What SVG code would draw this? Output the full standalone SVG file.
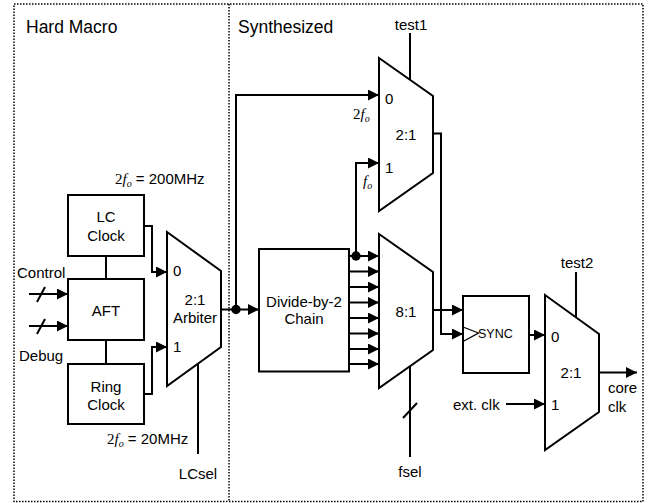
<svg xmlns="http://www.w3.org/2000/svg" width="648" height="503" viewBox="0 0 648 503">
<style>
.t{font-family:"Liberation Sans",Arial,sans-serif;font-size:15px;fill:#000}
.big{font-size:17.5px}
.m{text-anchor:middle}
.s{font-family:"Liberation Serif","Times New Roman",serif}
.box{fill:#fff;stroke:#000;stroke-width:2}
.w{fill:none;stroke:#000;stroke-width:2;stroke-linejoin:miter}
.a{marker-end:url(#ah)}
.dot{fill:#000}
.frame{fill:none;stroke:#000;stroke-width:1.5;stroke-dasharray:1.5 1.5}
</style>
<defs>
<marker id="ah" markerUnits="userSpaceOnUse" markerWidth="12" markerHeight="12" refX="11" refY="5.5" orient="auto">
<path d="M0,0 L11,5.5 L0,11 z" fill="#000"/>
</marker>
</defs>
<rect width="648" height="503" fill="#fff"/>
<g id="frame">
<rect class="frame" x="14" y="4" width="629" height="497.5"/>
<line class="frame" x1="229" y1="4" x2="229" y2="501.5"/>
<text class="t big" x="26" y="33">Hard Macro</text>
<text class="t big" x="238" y="33">Synthesized</text>
</g>
<g id="connectors">
<line class="w" x1="106" y1="256" x2="106" y2="279"/>
<line class="w" x1="106" y1="340" x2="106" y2="364"/>
<line class="w a" x1="29" y1="294" x2="68" y2="294"/>
<line class="w" x1="37" y1="302" x2="45" y2="287"/>
<line class="w a" x1="29" y1="326" x2="68" y2="326"/>
<line class="w" x1="37" y1="334" x2="45" y2="319"/>
<path class="w a" d="M144,226 H152 V272 H167"/>
<path class="w a" d="M144,394 H152 V347 H167"/>
<line class="w" x1="198" y1="364" x2="198" y2="454"/>
<line class="w" x1="221" y1="309.5" x2="236" y2="309.5"/>
<line class="w a" x1="236" y1="309.5" x2="259" y2="309.5"/>
<path class="w a" d="M236,309.5 V95 H379"/>
<circle class="dot" cx="236" cy="309.5" r="4.7"/>
<line class="w" x1="410" y1="33" x2="410" y2="80"/>
<path class="w a" d="M356,256 V163 H379"/>
<circle class="dot" cx="356" cy="256" r="4.7"/>
<line class="w a" x1="349" y1="256" x2="379" y2="256"/>
<line class="w a" x1="349" y1="271.5" x2="379" y2="271.5"/>
<line class="w a" x1="349" y1="287" x2="379" y2="287"/>
<line class="w a" x1="349" y1="302.5" x2="379" y2="302.5"/>
<line class="w a" x1="349" y1="318" x2="379" y2="318"/>
<line class="w a" x1="349" y1="333.5" x2="379" y2="333.5"/>
<line class="w a" x1="349" y1="349" x2="379" y2="349"/>
<line class="w a" x1="349" y1="364" x2="379" y2="364"/>
<line class="w" x1="410" y1="366" x2="410" y2="457"/>
<line class="w" x1="403" y1="418" x2="417" y2="403"/>
<path class="w a" d="M433,133.5 H441 V334 H463"/>
<line class="w a" x1="433" y1="310" x2="463" y2="310"/>
<line class="w a" x1="529" y1="335" x2="545" y2="335"/>
<line class="w" x1="576" y1="272" x2="576" y2="317"/>
<line class="w a" x1="506" y1="404" x2="545" y2="404"/>
<line class="w a" x1="599" y1="372.5" x2="637" y2="372.5"/>
</g>
<g id="lc_clock">
<rect class="box" x="68" y="195" width="76" height="61"/>
<text class="t m" x="106" y="222">LC</text>
<text class="t m" x="106" y="241">Clock</text>
<text class="t" x="115" y="184"><tspan class="s">2</tspan><tspan class="s" font-style="italic">f</tspan><tspan class="s" font-style="italic" font-size="10" dy="3">o</tspan><tspan dy="-3"> = 200MHz</tspan></text>
</g>
<g id="aft">
<rect class="box" x="68" y="279" width="76" height="61"/>
<text class="t m" x="106" y="316">AFT</text>
<text class="t" x="17" y="278">Control</text>
<text class="t" x="19" y="361">Debug</text>
</g>
<g id="ring_clock">
<rect class="box" x="68" y="364" width="76" height="60"/>
<text class="t m" x="106" y="392">Ring</text>
<text class="t m" x="106" y="410">Clock</text>
<text class="t" x="107" y="444"><tspan class="s">2</tspan><tspan class="s" font-style="italic">f</tspan><tspan class="s" font-style="italic" font-size="10" dy="3">o</tspan><tspan dy="-3"> = 20MHz</tspan></text>
</g>
<g id="arbiter">
<path class="box" d="M167,232 L221,271 L221,347 L167,386 Z"/>
<text class="t" x="173" y="276">0</text>
<text class="t" x="173" y="352">1</text>
<text class="t m" x="195" y="305">2:1</text>
<text class="t m" x="195" y="323">Arbiter</text>
<text class="t m" x="198" y="479">LCsel</text>
</g>
<g id="mux_test1">
<path class="box" d="M379,58 L433,96 L433,173 L379,211 Z"/>
<text class="t m" x="411" y="30">test1</text>
<text class="t" x="385" y="104">0</text>
<text class="t" x="385" y="173">1</text>
<text class="t m" x="406" y="140">2:1</text>
<text class="t" x="353" y="119"><tspan class="s">2</tspan><tspan class="s" font-style="italic">f</tspan><tspan class="s" font-style="italic" font-size="10" dy="3">o</tspan></text>
<text class="t" x="363" y="186"><tspan class="s" font-style="italic">f</tspan><tspan class="s" font-style="italic" font-size="10" dy="3">o</tspan></text>
</g>
<g id="divider_chain">
<rect class="box" x="259" y="249" width="90" height="122.5"/>
<text class="t m" x="304" y="307">Divide-by-2</text>
<text class="t m" x="304" y="324">Chain</text>
</g>
<g id="mux_8to1">
<path class="box" d="M379,234 L433,272 L433,350 L379,388 Z"/>
<text class="t m" x="406" y="317">8:1</text>
<text class="t m" x="410" y="477">fsel</text>
</g>
<g id="sync">
<rect class="box" x="463" y="296" width="66" height="77"/>
<path fill="none" stroke="#000" stroke-width="1.3" d="M463,327 L478.5,333 L463,341.5"/>
<text class="t" x="478" y="337.5" style="font-size:12.5px">SYNC</text>
</g>
<g id="mux_test2">
<path class="box" d="M545,295 L599,334 L599,412 L545,450 Z"/>
<text class="t m" x="577" y="268">test2</text>
<text class="t" x="551" y="342">0</text>
<text class="t" x="551" y="410">1</text>
<text class="t m" x="571" y="378">2:1</text>
<text class="t" x="453" y="410">ext. clk</text>
<text class="t" x="608" y="393">core</text>
<text class="t" x="608" y="412">clk</text>
</g>
</svg>
